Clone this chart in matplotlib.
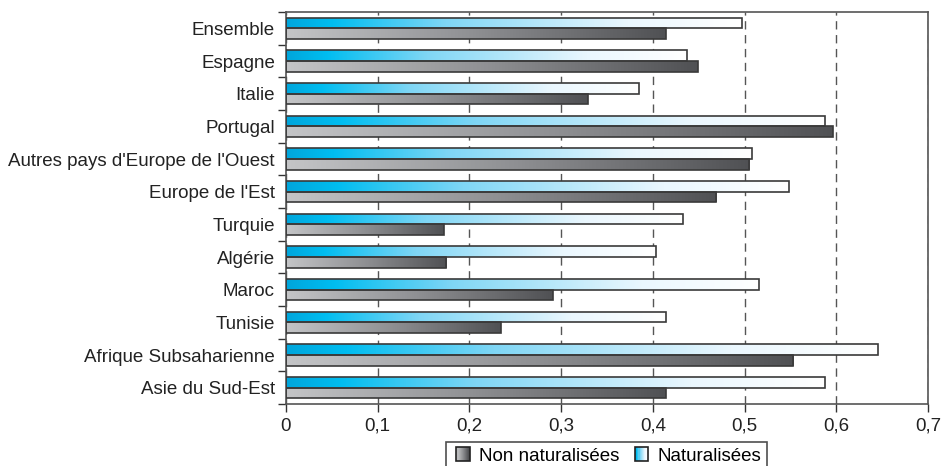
import numpy as np
import matplotlib.pyplot as plt
from matplotlib.colors import LinearSegmentedColormap
from matplotlib.patches import Rectangle
from matplotlib.legend_handler import HandlerBase

plt.rcParams['font.family'] = ['Liberation Sans', 'DejaVu Sans']

categories = ['Ensemble', 'Espagne', 'Italie', 'Portugal',
              "Autres pays d'Europe de l'Ouest", "Europe de l'Est", 'Turquie',
              'Algérie', 'Maroc', 'Tunisie', 'Afrique Subsaharienne',
              'Asie du Sud-Est']
naturalisees = [0.497, 0.437, 0.385, 0.588, 0.508, 0.549, 0.433, 0.403,
                0.516, 0.414, 0.646, 0.588]
non_naturalisees = [0.414, 0.449, 0.329, 0.596, 0.505, 0.469, 0.172, 0.175,
                    0.291, 0.234, 0.553, 0.414]
xticks = [0, 0.1, 0.2, 0.3, 0.4, 0.5, 0.6, 0.7]

blue_cmap = LinearSegmentedColormap.from_list(
    'blue', [(0, '#00a6dc'), (0.1, '#00bdf0'), (0.35, '#7fd6f5'),
             (0.75, '#eaf7fe'), (1, '#ffffff')])
grey_cmap = LinearSegmentedColormap.from_list(
    'grey', [(0, '#c4c5c7'), (0.5, '#8e8f92'), (1, '#505154')])
edge = '#3a3a3a'
fs = 13.5

fig = plt.figure(figsize=(9.42, 4.66), dpi=100)
ax = fig.add_axes([0.3036, 0.133, 0.6815, 0.8412])

grad = np.linspace(0, 1, 256).reshape(1, -1)
h = 0.33
y = np.arange(len(categories))


def grad_bars(vals, offset, cmap):
    bars = ax.barh(y + offset, vals, height=h, facecolor='none',
                   edgecolor=edge, linewidth=1.2, zorder=3)
    for b in bars:
        x0, y0 = b.get_x(), b.get_y()
        w, hh = b.get_width(), b.get_height()
        im = ax.imshow(grad, cmap=cmap, aspect='auto',
                       extent=(x0, x0 + w, y0 + hh, y0), zorder=2)
        im.set_clip_path(b)


grad_bars(naturalisees, -h / 2, blue_cmap)
grad_bars(non_naturalisees, h / 2, grey_cmap)

ax.set_xlim(0, 0.7)
ax.set_ylim(len(categories) - 0.5, -0.5)
ax.set_xticks(xticks)
ax.set_xticklabels([('%g' % t).replace('.', ',') for t in xticks])
ax.set_yticks(y)
ax.set_yticklabels(categories)
ax.set_yticks(np.arange(len(categories) + 1) - 0.5, minor=True)
ax.tick_params(axis='y', which='major', length=0, pad=8, labelsize=fs,
               labelcolor='#222222')
ax.tick_params(axis='y', which='minor', length=6, width=1, color='#333333')
ax.tick_params(axis='x', length=6, width=1, color='#333333', labelsize=fs,
               labelcolor='#222222', pad=4)
ax.xaxis.grid(True, linestyle=(0, (6, 4)), color='#555555', linewidth=1)
ax.set_axisbelow(True)
for s in ax.spines.values():
    s.set_color('#555555')
    s.set_linewidth(1.2)


class GradHandler(HandlerBase):
    def __init__(self, cmap):
        super().__init__()
        self.cmap = cmap

    def create_artists(self, legend, orig_handle, xdescent, ydescent,
                       width, height, fontsize, trans):
        s = height * 1.0
        x0 = xdescent + width - s - 2
        arts = []
        n = 12
        for i in range(n):
            r = Rectangle((x0 + s * i / n, -ydescent), s / n + 0.3, s,
                          facecolor=self.cmap(i / (n - 1)), edgecolor='none',
                          transform=trans)
            arts.append(r)
        arts.append(Rectangle((x0, -ydescent), s, s, facecolor='none',
                              edgecolor='#222222', linewidth=1.2,
                              transform=trans))
        return arts


h1 = Rectangle((0, 0), 1, 1)
h2 = Rectangle((0, 0), 1, 1)
leg = fig.legend([h1, h2], ['Non naturalisées', 'Naturalisées'],
                 handler_map={h1: GradHandler(grey_cmap),
                              h2: GradHandler(blue_cmap)},
                 loc='upper left', bbox_to_anchor=(0.4735, 0.052), ncol=2,
                 fontsize=fs, frameon=True, fancybox=False,
                 handlelength=1.1, handletextpad=0.35, columnspacing=0.6,
                 borderpad=0.3, borderaxespad=0)
leg.get_frame().set_edgecolor('#222222')
leg.get_frame().set_linewidth(1.2)

fig.savefig('out.png', dpi=100)
